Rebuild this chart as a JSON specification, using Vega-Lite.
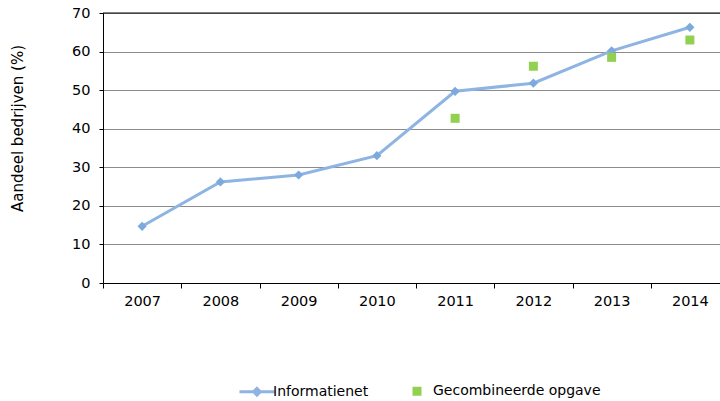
{
  "$schema": "https://vega.github.io/schema/vega-lite/v6.json",
  "width": 617,
  "height": 270,
  "autosize": {"type": "none"},
  "padding": {"left": 103, "top": 13, "right": 0, "bottom": 118},
  "config": {
    "view": {"stroke": null},
    "font": "DejaVu Sans",
    "axis": {"labelFont": "DejaVu Sans", "titleFont": "DejaVu Sans", "labelColor": "#000000", "titleColor": "#000000"},
    "legend": {"labelFont": "DejaVu Sans", "labelColor": "#000000"}
  },
  "data": {
    "values": [
      {"year": "2007", "series": "Informatienet", "value": 14.7},
      {"year": "2008", "series": "Informatienet", "value": 26.2},
      {"year": "2009", "series": "Informatienet", "value": 28.0},
      {"year": "2010", "series": "Informatienet", "value": 33.0},
      {"year": "2011", "series": "Informatienet", "value": 49.7},
      {"year": "2012", "series": "Informatienet", "value": 51.8},
      {"year": "2013", "series": "Informatienet", "value": 60.2},
      {"year": "2014", "series": "Informatienet", "value": 66.3},
      {"year": "2011", "series": "Gecombineerde opgave", "value": 42.7},
      {"year": "2012", "series": "Gecombineerde opgave", "value": 56.2},
      {"year": "2013", "series": "Gecombineerde opgave", "value": 58.5},
      {"year": "2014", "series": "Gecombineerde opgave", "value": 63.0}
    ]
  },
  "encoding": {
    "x": {
      "field": "year", "type": "ordinal",
      "scale": {"paddingInner": 0, "paddingOuter": 0, "range": [0, 626]},
      "axis": {
        "title": null, "labelAngle": 0, "domainColor": "#000000", "tickColor": "#000000",
        "tickSize": 5, "tickBand": "extent", "labelPadding": 6, "labelFontSize": 14.5, "grid": false
      }
    },
    "y": {
      "field": "value", "type": "quantitative",
      "scale": {"domain": [0, 70], "nice": false, "zero": true},
      "axis": {
        "title": "Aandeel bedrijven (%)", "values": [0, 10, 20, 30, 40, 50, 60, 70],
        "domainColor": "#000000", "tickColor": "#000000", "tickSize": 4, "labelPadding": 9,
        "labelFontSize": 14.5, "titleFontSize": 15, "titleFontWeight": "normal",
        "titleAngle": 270, "titleX": -86, "titleY": 115, "titleAlign": "center", "titleBaseline": "middle",
        "grid": true, "gridColor": "#8c8c8c", "gridWidth": 1
      }
    }
  },
  "layer": [
    {
      "data": {"values": [{"top": 70}]},
      "mark": {"type": "rule", "color": "#000000", "strokeWidth": 1},
      "encoding": {"x": null, "y": {"field": "top", "type": "quantitative"}}
    },
    {
      "transform": [{"filter": "datum.series == 'Informatienet'"}],
      "mark": {"type": "line", "color": "#8DB4E2", "strokeWidth": 3}
    },
    {
      "transform": [{"filter": "datum.series == 'Informatienet'"}],
      "mark": {"type": "point", "shape": "diamond", "filled": true, "color": "#7EA9DE", "size": 85, "opacity": 1}
    },
    {
      "transform": [{"filter": "datum.series == 'Gecombineerde opgave'"}],
      "mark": {"type": "point", "shape": "square", "filled": true, "color": "#92D050", "size": 81, "opacity": 1}
    },
    {
      "mark": {"type": "point", "filled": true, "opacity": 0, "strokeWidth": 3},
      "encoding": {
        "fill": {
          "field": "series", "type": "nominal",
          "scale": {"domain": ["Informatienet", "Gecombineerde opgave"], "range": ["#7EA9DE", "#92D050"]},
          "legend": {
            "title": null, "orient": "none", "direction": "horizontal", "legendX": 147, "legendY": 371,
            "symbolSize": 81, "symbolOpacity": 1, "symbolStrokeWidth": 3, "labelFontSize": 14,
            "labelOffset": 9, "columnPadding": 37, "labelLimit": 0
          }
        },
        "stroke": {
          "field": "series", "type": "nominal",
          "scale": {"domain": ["Informatienet", "Gecombineerde opgave"], "range": ["#8DB4E2", "transparent"]},
          "legend": {
            "title": null, "orient": "none", "direction": "horizontal", "legendX": 147, "legendY": 371,
            "symbolSize": 81, "symbolOpacity": 1, "symbolStrokeWidth": 3, "labelFontSize": 14,
            "labelOffset": 9, "columnPadding": 37, "labelLimit": 0
          }
        },
        "shape": {
          "field": "series", "type": "nominal",
          "scale": {"domain": ["Informatienet", "Gecombineerde opgave"], "range": ["M-3.9,0L3.9,0M0,-0.75L0.75,0L0,0.75L-0.75,0Z", "square"]},
          "legend": {
            "title": null, "orient": "none", "direction": "horizontal", "legendX": 147, "legendY": 371,
            "symbolSize": 81, "symbolOpacity": 1, "symbolStrokeWidth": 3, "labelFontSize": 14,
            "labelOffset": 9, "columnPadding": 37, "labelLimit": 0
          }
        }
      }
    }
  ]
}
